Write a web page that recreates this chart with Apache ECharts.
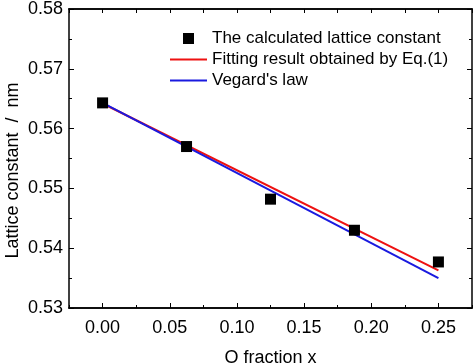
<!DOCTYPE html>
<html><head><meta charset="utf-8">
<script src="https://cdn.jsdelivr.net/npm/echarts@6/dist/echarts.min.js"></script>
<style>html,body{margin:0;padding:0;background:#fff}#c{width:474px;height:364px}</style>
</head><body><div id="c"></div>
<script>
var xCalc = [0, 0.0625, 0.125, 0.1875, 0.25];
var yCalc = [0.5643, 0.5570, 0.5482, 0.5430, 0.5377];
var xFit = [0, 0.25];
var yFit = [0.5642, 0.5363];
var xVeg = [0, 0.25];
var yVeg = [0.5643, 0.5350];
var xMajor = [0, 0.05, 0.10, 0.15, 0.20, 0.25];
var xMinor = [-0.025, 0.025, 0.075, 0.125, 0.175, 0.225, 0.275];
var names = ['The calculated lattice constant', 'Fitting result obtained by Eq.(1)', "Vegard's law"];

function zip(a, b) { return a.map(function (v, i) { return [v, b[i]]; }); }
var font = 'Liberation Sans, Arial, sans-serif';
var black = '#000';
function xa(pos, ticks, len, labels, extra) {
  var o = {
    type: 'value', position: pos, min: -0.025, max: 0.275,
    splitLine: { show: false },
    axisLine: { show: true, onZero: false, lineStyle: { color: black, width: 1.5 } },
    axisTick: { show: true, inside: true, length: len, customValues: ticks, lineStyle: { color: black, width: 1 } },
    axisLabel: labels ? { show: true, customValues: xMajor, formatter: function (v) { return v.toFixed(2); }, color: black, fontFamily: font, fontSize: 18, margin: 11 } : { show: false }
  };
  for (var k in extra) o[k] = extra[k];
  return o;
}
function ya(pos, labels, extra) {
  var o = {
    type: 'value', position: pos, min: 0.53, max: 0.58, interval: 0.01,
    splitLine: { show: false },
    axisLine: { show: true, onZero: false, lineStyle: { color: black, width: 1.5 } },
    axisTick: { show: true, inside: true, length: 5, lineStyle: { color: black, width: 1 } },
    minorTick: { show: true, splitNumber: 2, length: 3, lineStyle: { color: black, width: 1 } },
    axisLabel: labels ? { show: true, formatter: function (v) { return v.toFixed(2); }, color: black, fontFamily: font, fontSize: 18, margin: 6 } : { show: false }
  };
  for (var k in extra) o[k] = extra[k];
  return o;
}
var chart = echarts.init(document.getElementById('c'));
chart.setOption({
  animation: false,
  backgroundColor: '#fff',
  grid: { left: 69, right: 2, top: 9, bottom: 56, outerBoundsMode: 'none', containLabel: false },
  xAxis: [
    xa('bottom', xMajor, 5, true, { name: 'O fraction x', nameLocation: 'middle', nameGap: 41, nameMoveOverlap: false, nameTextStyle: { color: black, fontFamily: font, fontSize: 18 } }),
    xa('bottom', xMinor, 3, false, {}),
    xa('top', xMajor, 4, false, {}),
    xa('top', xMinor, 4, false, {})
  ],
  yAxis: [
    ya('left', true, { name: 'Lattice constant  /  nm', nameLocation: 'middle', nameGap: 47, nameMoveOverlap: false, nameTextStyle: { color: black, fontFamily: font, fontSize: 18, padding: [0, 24, 0, 0] } }),
    ya('right', false, {})
  ],
  legend: {
    orient: 'vertical', left: 165, top: 25, itemWidth: 37, itemHeight: 11, itemGap: 4,
    symbolKeepAspect: true,
    textStyle: { color: black, fontFamily: font, fontSize: 17, lineHeight: 15 },
    data: [
      { name: names[0], icon: 'path://M0,0H10V10H0Z' },
      { name: names[1], icon: 'path://M0,0H37V2H0Z' },
      { name: names[2], icon: 'path://M0,0H37V2H0Z' }
    ]
  },
  series: [
    { name: names[1], type: 'line', data: zip(xFit, yFit), symbol: 'none', lineStyle: { color: '#ee1111', width: 2 }, itemStyle: { color: '#ee1111' }, z: 2 },
    { name: names[2], type: 'line', data: zip(xVeg, yVeg), symbol: 'none', lineStyle: { color: '#1a1adf', width: 2 }, itemStyle: { color: '#1a1adf' }, z: 3 },
    { name: names[0], type: 'scatter', data: zip(xCalc, yCalc), symbol: 'rect', symbolSize: 11, itemStyle: { color: black, opacity: 1 }, z: 4 }
  ]
});
</script></body></html>
